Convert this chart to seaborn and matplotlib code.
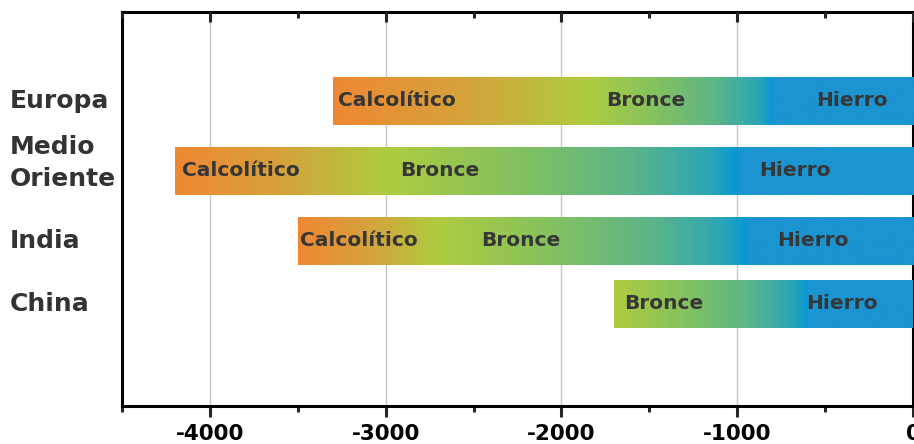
import matplotlib
matplotlib.use("Agg")
import matplotlib.pyplot as plt
import numpy as np
import seaborn as sns
from matplotlib.colors import LinearSegmentedColormap
from matplotlib.ticker import MultipleLocator
from matplotlib.transforms import ScaledTranslation, blended_transform_factory

sns.set_theme(style="white")
plt.rcParams['font.family'] = ['DejaVu Sans']
plt.rcParams['axes.unicode_minus'] = False

# data (years, negative = BC)
regions = ["Europa", "Medio\nOriente", "India", "China"]
start = [-3300, -4200, -3500, -1700]
bronze = [-1850, -3000, -2700, -1700]
iron = [-800, -1000, -950, -600]
end = 0

periods = ["Calcolítico", "Bronce", "Hierro"]
# where each period name is written (None = no label)
label_x = [
    [-3273, -1744, -551],
    [-4159, -2920, -875],
    [-3489, -2455, -773],
    [None, -1642, -608],
]

# colours
cmap_cb = LinearSegmentedColormap.from_list(
    "cb", [(0, "#ef8733"), (0.5, "#d6a23b"), (1, "#aecb3f")])
cmap_bi = LinearSegmentedColormap.from_list(
    "bi", [(0, "#aecb3f"), (0.35, "#86c25e"), (0.7, "#5bb48a"),
           (0.92, "#2ba6b5"), (1, "#0a97d6")])
iron_blue = np.array(matplotlib.colors.to_rgba("#1b94d0"))
text_col = "#363636"

ypos = [1, 2, 3, 3.9]
bar_h = 0.686


def bar_colors(xs, s, b, i):
    out = np.zeros((len(xs), 4))
    for k, x in enumerate(xs):
        if x < b:
            out[k] = cmap_cb((x - s) / (b - s))
        elif x < i:
            out[k] = cmap_bi((x - b) / (i - b))
        else:
            out[k] = iron_blue
    return out


fig = plt.figure(figsize=(9.14, 4.44), dpi=100)
ax = fig.add_axes([122 / 914, 1 - 406 / 444, 791 / 914, 394 / 444])

bars = ax.barh(ypos, [end - s for s in start], left=start, height=bar_h,
               color="#1b94d0", linewidth=0, zorder=2)

for k, patch in enumerate(bars):
    xs = np.linspace(start[k], end, 1200)
    img = bar_colors(xs, start[k], bronze[k], iron[k])[np.newaxis, :, :]
    y = ypos[k]
    im = ax.imshow(img, extent=[start[k], end, y + bar_h / 2, y - bar_h / 2],
                   aspect="auto", interpolation="bilinear", zorder=3)
    im.set_clip_path(patch)
    for name, lx in zip(periods, label_x[k]):
        if lx is None:
            continue
        ax.text(lx, y, name, ha="left", va="center", fontsize=14.5,
                fontweight="bold", color=text_col, zorder=4)

ax.set_xlim(-4500, 0)
ax.set_ylim(5.357, -0.271)

ax.set_xticks(range(-4000, 1, 1000))
ax.xaxis.set_minor_locator(MultipleLocator(500))
ax.tick_params(axis="x", which="major", direction="out", length=8, width=2.2,
               pad=5, labelsize=15.5, labelcolor="black", bottom=True, top=False)
ax.tick_params(axis="x", which="minor", direction="out", length=4.5, width=2.2,
               bottom=True, top=False)
for lbl in ax.get_xticklabels():
    lbl.set_fontweight("bold")

# region names, left aligned near the figure edge
ax.set_yticks([])
trans = blended_transform_factory(ax.transAxes, ax.transData)
for name, y in zip(regions, ypos):
    t = trans
    if "\n" in name:
        t = trans + ScaledTranslation(0, 0.08, fig.dpi_scale_trans)
    ax.text(-112 / 791, y, name, transform=t, ha="left", va="center",
            fontsize=18, fontweight="bold", color="#333333", linespacing=1.45,
            clip_on=False)

ax.grid(axis="x", which="major", color="#c4c4c4", linewidth=1)
ax.grid(axis="y", visible=False)
ax.set_axisbelow(True)

for side in ["left", "top", "bottom", "right"]:
    ax.spines[side].set_visible(True)
    ax.spines[side].set_color("black")
    ax.spines[side].set_linewidth(2.2)

# top ticks point inwards
top = ax.twiny()
top.set_xlim(ax.get_xlim())
top.set_xticks(range(-4000, 1, 1000))
top.xaxis.set_minor_locator(MultipleLocator(500))
top.tick_params(axis="x", which="major", direction="in", length=7, width=2.2,
                labeltop=False, top=True)
top.tick_params(axis="x", which="minor", direction="in", length=4, width=2.2,
                top=True)
for side in top.spines.values():
    side.set_visible(False)
top.grid(False)

fig.savefig("out.png", dpi=100)
